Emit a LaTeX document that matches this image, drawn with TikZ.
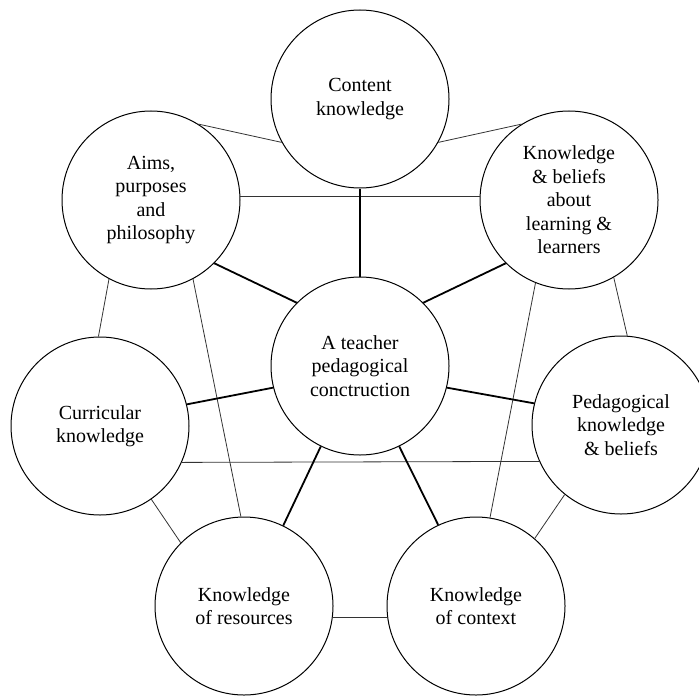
\documentclass[tikz,border=0pt]{standalone}
\usepackage{fontspec}
\setmainfont{LiberationSerif}[Extension=.ttf, UprightFont=*-Regular,
  BoldFont=*-Bold, ItalicFont=*-Italic, BoldItalicFont=*-BoldItalic]
\usepackage{tikz}

\begin{document}
\begin{tikzpicture}[x=0.5pt,y=-0.5pt,
  area/.style={circle, draw, line width=0.5pt, minimum size=89pt, inner sep=0pt,
    align=center, font=\fontsize{10}{11.75}\selectfont},
  ring/.style={line width=0.4pt, black!80},
  spoke/.style={line width=0.9pt}]
\useasboundingbox (0,0) rectangle (699,695);
\node[area] (CK) at (360,99){Content\\knowledge};
\node[area] (AP) at (151,200){Aims,\\purposes\\and\\philosophy};
\node[area] (KB) at (569,200){Knowledge\\\& beliefs\\about\\learning \&\\learners};
\node[area] (TP) at (360,366){A teacher\\pedagogical\\conctruction};
\node[area] (CU) at (100,426){Curricular\\knowledge};
\node[area] (PK) at (621,425){Pedagogical\\knowledge\\\& beliefs};
\node[area] (KR) at (244,606){Knowledge\\of resources};
\node[area] (KC) at (476,606){Knowledge\\of context};
\foreach \from/\to in
{CK.209/AP.58,CK.331/KB.122,AP.2/KB.178,AP.242/CU.91,AP.298/KR.92,
 KB.248/KC.81,KB.300/PK.86,CU.336/PK.204,CU.305/KR.135,PK.231/KC.49,
 KR.353/KC.187}
\draw[ring] (\from) -- (\to);
\foreach \from/\to in
{TP.90/CK.270,TP.135/AP.315,TP.45/KB.225,TP.194/CU.14,TP.346/PK.166,
 TP.244/KR.64,TP.296/KC.115}
\draw[spoke] (\from) -- (\to);
\end{tikzpicture}
\end{document}
